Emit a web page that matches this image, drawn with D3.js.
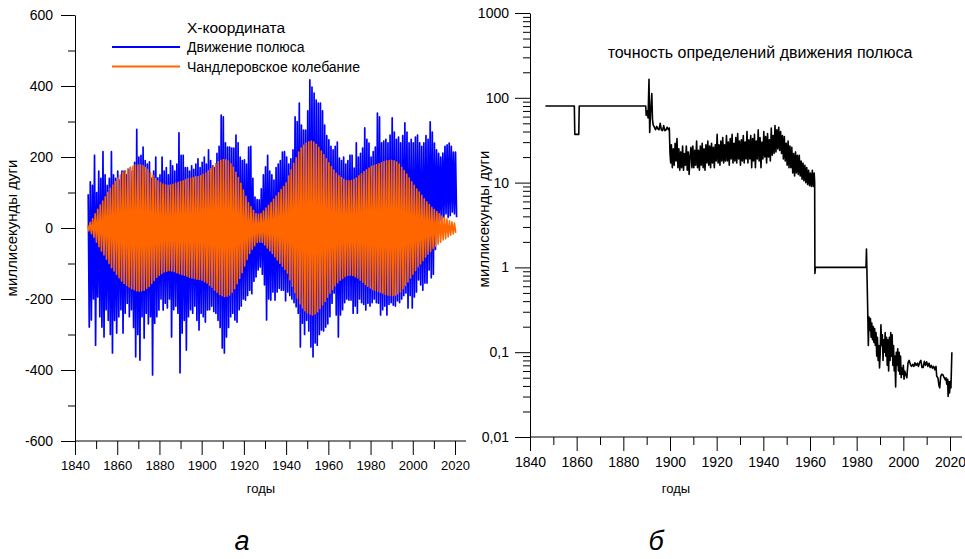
<!DOCTYPE html>
<html>
<head>
<meta charset="utf-8">
<script src="https://cdn.jsdelivr.net/npm/d3@7"></script>
<style>
  body { margin: 0; background: #fff; }
  text { font-family: "Liberation Sans", Arial, sans-serif; }
</style>
</head>
<body>
<div id="canvas"></div>
<script>
// --- data: pole motion, X coordinate (mas), one high/low pair per year from 1846 ---
const blueFirstYear = 1846;
const blueHigh = [
  95, 130, 120, 205, 100, 160, 140, 215, 150, 120, 140, 215, 150, 140, 160, 135, 160, 160, 150, 165,
  170, 160, 185, 278, 200, 205, 228, 190, 180, 186, 140, 160, 200, 141, 150, 200, 160, 170, 150, 190,
  175, 160, 180, 268, 205, 205, 170, 170, 160, 175, 165, 180, 195, 170, 185, 200, 180, 220, 190, 175,
  170, 210, 230, 318, 313, 240, 228, 228, 225, 225, 262, 240, 200, 190, 192, 180, 228, 230, 140, 87,
  80, 79, 110, 150, 172, 205, 160, 150, 135, 170, 180, 190, 214, 215, 200, 180, 195, 220, 313, 300,
  352, 290, 276, 276, 330, 417, 397, 380, 360, 352, 352, 330, 290, 260, 248, 230, 220, 230, 242, 197,
  190, 200, 180, 190, 205, 205, 169, 240, 200, 210, 225, 282, 250, 239, 200, 215, 228, 324, 313, 240,
  245, 250, 240, 262, 310, 270, 250, 256, 240, 260, 296, 270, 240, 250, 240, 256, 262, 240, 230, 240,
  260, 250, 299, 270, 239, 220, 210, 200, 211, 230, 234, 239, 230, 214, 214
];
const blueLow = [
  -279, -259, -200, -330, -194, -250, -279, -307, -230, -260, -300, -352, -260, -296, -250, -230, -296, -240, -212, -250,
  -230, -280, -363, -300, -372, -250, -310, -240, -270, -250, -414, -268, -250, -231, -200, -231, -212, -225, -200, -307,
  -230, -220, -240, -408, -296, -260, -344, -250, -230, -240, -220, -260, -287, -240, -250, -265, -231, -230, -220, -235,
  -240, -260, -280, -338, -352, -307, -280, -250, -240, -259, -265, -230, -220, -200, -203, -190, -175, -185, -150, -138,
  -118, -110, -130, -160, -259, -200, -203, -180, -203, -180, -170, -175, -175, -205, -180, -190, -200, -210, -222, -240,
  -335, -268, -300, -260, -290, -335, -363, -324, -330, -300, -287, -290, -279, -270, -250, -212, -183, -245, -307, -245,
  -230, -210, -200, -203, -203, -240, -220, -240, -200, -210, -215, -231, -212, -220, -210, -200, -210, -212, -245, -230,
  -220, -245, -215, -210, -217, -220, -205, -210, -200, -190, -183, -225, -190, -225, -194, -180, -146, -160, -175, -155,
  -155, -118, -140, -130, -60, 0, 20, 25, 30, 40, 30, 35, 45, 40, 30
];

// --- data: Chandler wobble, amplitude of each cycle (mas) ---
const chandlerStart = 1846;
const chandlerPeriod = 1.19;
const chandlerAmp = [
  8, 16, 26, 40, 53, 65, 76, 88, 100, 112, 121, 131, 140, 149, 156, 162, 166, 171, 174, 177,
  178, 177, 175, 170, 165, 156, 148, 139, 133, 128, 124, 122, 120, 121, 123, 126, 129, 131, 133, 136,
  139, 141, 142, 144, 145, 147, 151, 155, 161, 167, 175, 181, 187, 191, 193, 192, 189, 181, 171, 157,
  142, 126, 107, 89, 72, 60, 50, 41, 39, 41, 48, 56, 64, 72, 81, 90, 99, 108, 117, 127,
  146, 164, 182, 198, 214, 225, 233, 239, 243, 245, 242, 236, 227, 217, 207, 195, 184, 173, 163, 154,
  147, 142, 137, 134, 133, 134, 137, 141, 147, 153, 159, 164, 169, 173, 176, 179, 181, 184, 187, 189,
  190, 191, 189, 186, 180, 171, 162, 152, 141, 130, 120, 110, 101, 92, 82, 74, 66, 58, 52, 46,
  40, 34, 30, 25, 20, 17, 14
];

// --- data: accuracy of pole determinations (mas) ---
const accYears = [
  1846.6, 1859.0, 1859.2, 1860.9, 1861.1, 1889.6, 1889.8, 1890.3, 1890.6, 1891.0, 1891.3, 1891.7, 1892.2, 1892.5, 1892.8,
  1893.3, 1893.8, 1894.3, 1894.8, 1895.3, 1895.8, 1896.3, 1896.8, 1897.3, 1897.8, 1898.3, 1898.8, 1899.3, 1899.7, 1900.0,
  1900.3, 1900.6, 1901.0, 1901.4, 1901.8, 1902.2, 1902.6, 1903.0, 1903.4, 1903.8, 1904.2, 1904.6, 1905.0, 1905.4, 1905.8,
  1906.2, 1906.6, 1907.0, 1907.4, 1907.8, 1908.2, 1908.6, 1909.0, 1909.4, 1909.8, 1910.2, 1910.6, 1911.0, 1911.4, 1911.8,
  1912.2, 1912.6, 1913.0, 1913.4, 1913.8, 1914.2, 1914.6, 1915.0, 1915.4, 1915.8, 1916.2, 1916.6, 1917.0, 1917.4, 1917.8,
  1918.2, 1918.6, 1919.0, 1919.4, 1919.8, 1920.2, 1920.6, 1921.0, 1921.4, 1921.8, 1922.2, 1922.6, 1923.0, 1923.4, 1923.8,
  1924.2, 1924.6, 1925.0, 1925.4, 1925.8, 1926.2, 1926.6, 1927.0, 1927.4, 1927.8, 1928.2, 1928.6, 1929.0, 1929.4, 1929.8,
  1930.2, 1930.6, 1931.0, 1931.4, 1931.8, 1932.2, 1932.6, 1933.0, 1933.4, 1933.8, 1934.2, 1934.6, 1935.0, 1935.4, 1935.8,
  1936.2, 1936.6, 1937.0, 1937.4, 1937.8, 1938.2, 1938.6, 1939.0, 1939.4, 1939.8, 1940.2, 1940.6, 1941.0, 1941.4, 1941.8,
  1942.2, 1942.6, 1943.0, 1943.4, 1943.8, 1944.2, 1944.6, 1945.0, 1945.4, 1945.8, 1946.2, 1946.6, 1947.0, 1947.4, 1947.8,
  1948.2, 1948.6, 1949.0, 1949.4, 1949.8, 1950.2, 1950.6, 1951.0, 1951.4, 1951.8, 1952.2, 1952.6, 1953.0, 1953.4, 1953.8,
  1954.2, 1954.6, 1955.0, 1955.4, 1955.8, 1956.2, 1956.6, 1957.0, 1957.4, 1957.8, 1958.2, 1958.6, 1959.0, 1959.4, 1959.8,
  1960.2, 1960.6, 1961.0, 1961.4, 1961.8, 1962.0, 1962.1, 1962.3, 1984.0, 1984.2, 1984.4, 1984.7, 1985.0, 1985.3, 1985.6,
  1985.9, 1986.2, 1986.5, 1986.8, 1987.1, 1987.4, 1987.7, 1988.0, 1988.3, 1988.6, 1988.9, 1989.2, 1989.5, 1989.8, 1990.1,
  1990.4, 1990.7, 1991.0, 1991.3, 1991.6, 1991.9, 1992.2, 1992.5, 1992.8, 1993.1, 1993.4, 1993.7, 1994.0, 1994.3, 1994.6,
  1994.9, 1995.2, 1995.5, 1995.8, 1996.1, 1996.4, 1996.7, 1997.0, 1997.3, 1997.6, 1997.9, 1998.2, 1998.5, 1998.8, 1999.1,
  1999.4, 1999.7, 2000.0, 2000.3, 2000.6, 2001.0, 2001.5, 2002.0, 2002.5, 2003.0, 2003.5, 2004.0, 2004.5, 2005.0, 2005.5,
  2006.0, 2006.5, 2007.0, 2007.5, 2008.0, 2008.5, 2009.0, 2009.5, 2010.0, 2010.5, 2011.0, 2011.5, 2012.0, 2012.5, 2013.0,
  2013.5, 2014.0, 2014.3, 2014.8, 2015.3, 2015.6, 2016.0, 2016.5, 2017.0, 2017.5, 2018.0, 2018.3, 2018.6, 2019.0, 2019.2,
  2019.5, 2019.8, 2020.1, 2020.4, 2020.8
];
const accValues = [
  80, 80, 37, 37, 80, 80, 62, 70, 58, 165, 39, 70, 112, 55, 48,
  45, 42, 46, 43, 42, 50, 42, 41, 47, 41, 42, 45, 42, 44, 22,
  17, 28, 15, 25, 16, 29, 18, 33, 15, 25, 14, 23, 15, 27, 14,
  22, 16, 27, 14, 23, 12.5, 21, 26, 15, 27, 15, 24, 16, 31, 15,
  24, 14, 27, 16, 29, 15, 25, 14, 28, 17, 31, 16, 27, 15, 29,
  17, 26, 15, 28, 18, 37, 17, 28, 16, 31, 18, 34, 17, 28, 18,
  36, 18, 30, 16, 33, 19, 37, 17, 29, 18, 34, 17, 38, 19, 31,
  16, 32, 18, 36, 17, 30, 19, 40, 17, 32, 19, 36, 15, 33, 18,
  37, 15, 31, 19, 42, 18, 34, 15, 30, 19, 40, 20, 35, 17, 38,
  20, 32, 18, 44, 21, 36, 22, 47, 23, 42, 25, 45, 24, 40, 22,
  36, 19, 35, 18, 29, 16, 31, 15, 27, 15, 26, 13, 22, 12, 23,
  13, 21, 12.5, 21, 12, 18, 11, 17, 10.5, 16, 10, 15, 9.5, 14, 9.2,
  13, 9, 14, 9, 13, 10, 0.85, 1.0, 1.0, 1.65, 0.9, 0.35, 0.12, 0.26, 0.18,
  0.25, 0.15, 0.22, 0.14, 0.2, 0.13, 0.19, 0.12, 0.17, 0.09, 0.15, 0.08, 0.12, 0.065, 0.1,
  0.21, 0.12, 0.16, 0.08, 0.14, 0.1, 0.17, 0.09, 0.15, 0.07, 0.14, 0.06, 0.15, 0.08, 0.17,
  0.09, 0.16, 0.07, 0.12, 0.06, 0.09, 0.039, 0.1, 0.07, 0.11, 0.06, 0.1, 0.055, 0.09, 0.05,
  0.065, 0.055, 0.07, 0.048, 0.06, 0.055, 0.05, 0.075, 0.08, 0.072, 0.068, 0.072, 0.068, 0.075, 0.07,
  0.074, 0.068, 0.076, 0.08, 0.066, 0.066, 0.078, 0.07, 0.077, 0.068, 0.074, 0.066, 0.07, 0.065, 0.068,
  0.062, 0.068, 0.052, 0.05, 0.04, 0.038, 0.052, 0.055, 0.054, 0.05, 0.047, 0.05, 0.042, 0.048, 0.03,
  0.045, 0.033, 0.045, 0.038, 0.1
];

const yearTicks = [1840, 1860, 1880, 1900, 1920, 1940, 1960, 1980, 2000, 2020];
const yearMinor = [1850, 1870, 1890, 1910, 1930, 1950, 1970, 1990, 2010];
const leftTicks = [-600, -400, -200, 0, 200, 400, 600];
const leftMinor = [-500, -300, -100, 100, 300, 500];
const rightTicks = [0.01, 0.1, 1, 10, 100, 1000];
const rightTickLabels = ['0,01', '0,1', '1', '10', '100', '1000'];

const svg = d3.select('#canvas').append('svg')
  .attr('width', 965)
  .attr('height', 559);

svg.append('rect').attr('width', 965).attr('height', 559).attr('fill', '#fff');

function styleAxis(g, size) {
  g.selectAll('text').attr('font-family', '"Liberation Sans", Arial, sans-serif').attr('font-size', size).attr('fill', '#000');
  g.selectAll('line').attr('stroke', '#000');
  g.select('.domain').attr('stroke', '#000');
}

// <-- left panel -->
const xL = d3.scaleLinear().domain([1840, 2020]).range([75, 455]);
const yL = d3.scaleLinear().domain([-600, 600]).range([441, 15]);
const left = svg.append('g');

left.append('g')
  .attr('transform', `translate(${xL(1840)},0)`)
  .call(d3.axisLeft(yL).tickValues(leftMinor).tickSize(7).tickFormat('').tickSizeOuter(0))
  .call(g => g.select('.domain').remove())
  .call(styleAxis, 14);
left.append('g')
  .attr('transform', `translate(${xL(1840)},0)`)
  .call(d3.axisLeft(yL).tickValues(leftTicks).tickSize(14).tickPadding(8).tickSizeOuter(0).tickFormat(d => String(d)))
  .call(styleAxis, 14);

left.append('g').attr('transform', `translate(0,${yL(-600)})`)
  .call(d3.axisBottom(xL).tickValues(yearMinor).tickSize(8).tickFormat('').tickSizeOuter(0))
  .call(g => g.select('.domain').remove())
  .call(styleAxis, 13);
left.append('g').attr('transform', `translate(0,${yL(-600)})`)
  .call(d3.axisBottom(xL).tickValues(yearTicks).tickSize(14).tickPadding(6).tickSizeOuter(0).tickFormat(d3.format('d')))
  .call(g => g.select('.domain').attr('d', `M${xL(1840)},0H${xL(2020) + 11}`))
  .call(styleAxis, 13);
// <-- left axes end -->

// pole motion (blue)
const bluePts = [];
blueHigh.forEach((h, i) => {
  bluePts.push([blueFirstYear + i + 0.25, h]);
  bluePts.push([blueFirstYear + i + 0.75, blueLow[i]]);
});
const lineL = d3.line().x(d => xL(d[0])).y(d => yL(d[1]));
left.append('path')
  .attr('d', lineL(bluePts))
  .attr('fill', 'none')
  .attr('stroke', '#0000ff')
  .attr('stroke-width', 1.7)
  .attr('stroke-linejoin', 'round');

// chandler wobble (orange)
const chPts = [];
chandlerAmp.forEach((a, k) => {
  chPts.push([chandlerStart + k * chandlerPeriod, a]);
  chPts.push([chandlerStart + (k + 0.5) * chandlerPeriod, -a]);
});
left.append('path')
  .attr('d', lineL(chPts))
  .attr('fill', 'none')
  .attr('stroke', '#ff6600')
  .attr('stroke-width', 1.6)
  .attr('stroke-linejoin', 'round');
// <-- lines end -->

left.append('text').attr('x', 187).attr('y', 33).attr('font-size', 15.5).text('X-координата');
const legend = [
  { name: 'Движение полюса', color: '#0000ff' },
  { name: 'Чандлеровское колебание', color: '#ff6600' },
];
legend.forEach((l, i) => {
  const y = 47 + i * 19.5;
  left.append('line').attr('x1', 112).attr('x2', 180).attr('y1', y).attr('y2', y)
    .attr('stroke', l.color).attr('stroke-width', 2);
  left.append('text').attr('x', 187).attr('y', y + 5).attr('font-size', 14).text(l.name);
});

left.append('text')
  .attr('transform', `translate(17,${yL(0)}) rotate(-90)`)
  .attr('text-anchor', 'middle').attr('font-size', 15)
  .text('миллисекунды дуги');
left.append('text')
  .attr('x', 261).attr('y', 493).attr('text-anchor', 'middle').attr('font-size', 13)
  .text('годы');
left.append('text')
  .attr('x', 242).attr('y', 550).attr('text-anchor', 'middle')
  .attr('font-family', '"Liberation Serif", "Times New Roman", serif')
  .attr('font-style', 'italic').attr('font-size', 27)
  .text('а');

// <-- right panel -->
const xR = d3.scaleLinear().domain([1840, 2020]).range([530, 950]);
const yR = d3.scaleLog().domain([0.01, 1000]).range([437, 13]);
const right = svg.append('g');

const logMinor = [];
[0.01, 0.1, 1, 10, 100].forEach(d => [2, 3, 4, 5, 6, 7, 8, 9].forEach(m => logMinor.push(d * m)));

right.append('g')
  .attr('transform', `translate(${xR(1840)},0)`)
  .call(d3.axisLeft(yR).tickValues(logMinor).tickSize(7).tickFormat('').tickSizeOuter(0))
  .call(g => g.select('.domain').remove())
  .call(styleAxis, 14);
right.append('g')
  .attr('transform', `translate(${xR(1840)},0)`)
  .call(d3.axisLeft(yR).tickValues(rightTicks).tickSize(15).tickPadding(6).tickSizeOuter(0)
    .tickFormat((d, i) => rightTickLabels[i]))
  .call(styleAxis, 14);

right.append('g').attr('transform', `translate(0,${yR(0.01)})`)
  .call(d3.axisBottom(xR).tickValues(yearMinor).tickSize(8).tickFormat('').tickSizeOuter(0))
  .call(g => g.select('.domain').remove())
  .call(styleAxis, 14);
right.append('g').attr('transform', `translate(0,${yR(0.01)})`)
  .call(d3.axisBottom(xR).tickValues(yearTicks).tickSize(14).tickPadding(6).tickSizeOuter(0).tickFormat(d3.format('d')))
  .call(g => g.select('.domain').attr('d', `M${xR(1840)},0H${xR(2020) + 12}`))
  .call(styleAxis, 14);

const lineR = d3.line().x(d => xR(d[0])).y(d => yR(d[1]));
right.append('path')
  .attr('d', lineR(accYears.map((y, i) => [y, accValues[i]])))
  .attr('fill', 'none')
  .attr('stroke', '#000')
  .attr('stroke-width', 1.6)
  .attr('stroke-linejoin', 'round');

right.append('text')
  .attr('x', 760).attr('y', 58).attr('text-anchor', 'middle').attr('font-size', 16)
  .text('точность определений движения полюса');
right.append('text')
  .attr('transform', `translate(489,219) rotate(-90)`)
  .attr('text-anchor', 'middle').attr('font-size', 15)
  .text('миллисекунды дуги');
right.append('text')
  .attr('x', 676).attr('y', 493).attr('text-anchor', 'middle').attr('font-size', 13)
  .text('годы');
right.append('text')
  .attr('x', 656).attr('y', 550).attr('text-anchor', 'middle')
  .attr('font-family', '"Liberation Serif", "Times New Roman", serif')
  .attr('font-style', 'italic').attr('font-size', 27)
  .text('б');
</script>
</body>
</html>
